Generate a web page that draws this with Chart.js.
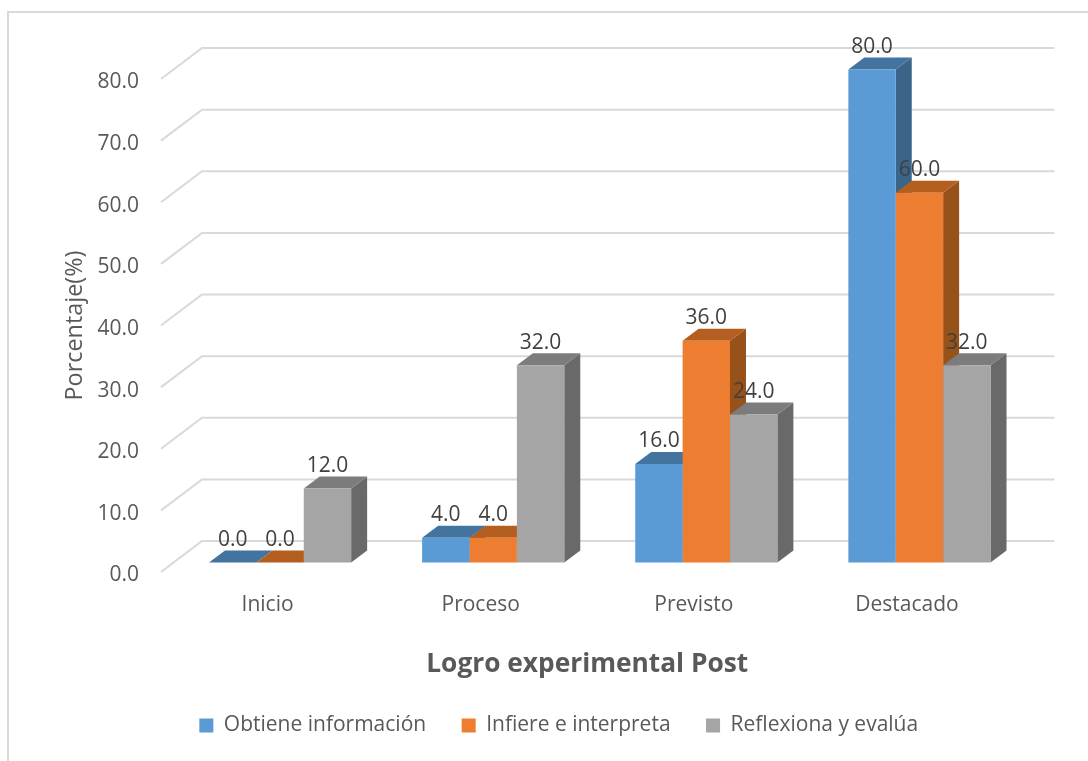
<!DOCTYPE html>
<html>
<head>
<meta charset="utf-8">
<script src="https://cdn.jsdelivr.net/npm/chart.js@4"></script>
<style>
  html, body { margin: 0; padding: 0; background: #fff; }
  #wrap { width: 1088px; height: 761px; }
</style>
</head>
<body>
<div id="wrap"><canvas id="myChart" width="1088" height="761"></canvas></div>
<script>
const categories = ["Inicio", "Proceso", "Previsto", "Destacado"];
const obtiene = [0, 4, 16, 80];
const infiere = [0, 4, 36, 60];
const reflexiona = [12, 32, 24, 32];
const seriesNames = ["Obtiene información", "Infiere e interpreta", "Reflexiona y evalúa"];

const fronts = ["#5B9BD5", "#ED7D31", "#A5A5A5"];
const tops = ["#43739F", "#B45F20", "#7C7C7C"];
const sides = ["#3A6488", "#975219", "#696969"];

// bars stand partway into the floor, the wall is at the back of it
const barShift = { x: 12.5, y: -9.5 };
const barDepth = { x: 16, y: -12 };
const wallDepth = { x: 41, y: -31 };

const scene3d = {
    id: "scene3d",
    afterLayout(chart) {
        // legend sits off centre in the reference
        chart.legend.left += 22;
        chart.legend.right += 22;
        // y tick text rides a little low against its gridline
        chart.scales.y.getLabelItems(chart.chartArea).forEach((item) => {
            item.options.translation[1] += 3.5;
        });
    },
    beforeDraw(chart) {
        const ctx = chart.ctx;
        ctx.save();
        ctx.fillStyle = "#fff";
        ctx.fillRect(0, 0, chart.width, chart.height);
        // outer frame, only left and top show
        ctx.strokeStyle = "#d9d9d9";
        ctx.lineWidth = 2;
        ctx.beginPath();
        ctx.moveTo(8, 761);
        ctx.lineTo(8, 12);
        ctx.lineTo(1088, 12);
        ctx.stroke();
        // gridlines: diagonal on the side wall, then along the back wall
        const y = chart.scales.y;
        const area = chart.chartArea;
        y.ticks.forEach((t) => {
            const py = y.getPixelForValue(t.value);
            ctx.beginPath();
            ctx.moveTo(area.left, py);
            ctx.lineTo(area.left + wallDepth.x, py + wallDepth.y);
            ctx.lineTo(area.right + wallDepth.x, py + wallDepth.y);
            ctx.stroke();
        });
        ctx.restore();
    },
    beforeDatasetsDraw(chart) {
        // sides and tops first, left series to right, so the later tops cover earlier sides
        const ctx = chart.ctx;
        ctx.save();
        ctx.translate(barShift.x, barShift.y);
        chart.data.datasets.forEach((ds, i) => {
            chart.getDatasetMeta(i).data.forEach((bar) => {
                const l = bar.x - bar.width / 2;
                const r = bar.x + bar.width / 2;
                ctx.fillStyle = sides[i];
                ctx.beginPath();
                ctx.moveTo(r, bar.y);
                ctx.lineTo(r + barDepth.x, bar.y + barDepth.y);
                ctx.lineTo(r + barDepth.x, bar.base + barDepth.y);
                ctx.lineTo(r, bar.base);
                ctx.closePath();
                ctx.fill();
                ctx.fillStyle = tops[i];
                ctx.beginPath();
                ctx.moveTo(l, bar.y);
                ctx.lineTo(l + barDepth.x, bar.y + barDepth.y);
                ctx.lineTo(r + barDepth.x, bar.y + barDepth.y);
                ctx.lineTo(r, bar.y);
                ctx.closePath();
                ctx.fill();
            });
        });
        ctx.restore();
    },
    beforeDatasetDraw(chart) {
        chart.ctx.save();
        chart.ctx.translate(barShift.x, barShift.y);
    },
    afterDatasetDraw(chart) {
        chart.ctx.restore();
    },
    afterDatasetsDraw(chart) {
        const ctx = chart.ctx;
        ctx.save();
        ctx.font = '21px "Open Sans"';
        ctx.fillStyle = "#404040";
        ctx.textAlign = "center";
        ctx.textBaseline = "middle";
        chart.data.datasets.forEach((ds, i) => {
            chart.getDatasetMeta(i).data.forEach((bar, j) => {
                ctx.fillText(ds.data[j].toFixed(1), bar.x + barShift.x, bar.y + barShift.y - 22.5);
            });
        });
        ctx.restore();
    },
};

const makeDataset = (label, data, i) => ({
    label: label,
    data: data,
    backgroundColor: fronts[i],
    clip: false,
    categoryPercentage: 0.667,
    barPercentage: 1,
});

new Chart(document.getElementById("myChart").getContext("2d"), {
    type: "bar",
    data: {
        labels: categories,
        datasets: [
            makeDataset(seriesNames[0], obtiene, 0),
            makeDataset(seriesNames[1], infiere, 1),
            makeDataset(seriesNames[2], reflexiona, 2),
        ],
    },
    plugins: [scene3d],
    options: {
        responsive: false,
        animation: false,
        layout: {
            padding: { left: 60, right: 74.5, top: 79, bottom: 15 },
        },
        scales: {
            x: {
                grid: { display: false },
                border: { display: false },
                ticks: {
                    color: "#595959",
                    font: { size: 21, family: "Open Sans" },
                    padding: 12.5,
                },
                title: {
                    display: true,
                    text: "Logro experimental Post",
                    color: "#595959",
                    font: { size: 26.3, weight: "bold", family: "Open Sans" },
                    padding: { top: 22, bottom: -1 },
                },
                afterFit(scale) {
                    scale.height = 107.5;
                },
            },
            y: {
                min: 0,
                max: 80,
                grid: { display: false },
                border: { display: false },
                ticks: {
                    stepSize: 10,
                    color: "#595959",
                    font: { size: 21, family: "Open Sans" },
                    padding: 14,
                    callback: (v) => v.toFixed(1),
                },
                title: {
                    display: true,
                    text: "Porcentaje(%)",
                    color: "#595959",
                    font: { size: 23.4, family: "Open Sans" },
                    padding: { top: 1, bottom: 8 },
                },
                afterFit(scale) {
                    scale.width = 101;
                },
            },
        },
        plugins: {
            legend: {
                position: "bottom",
                labels: {
                    boxWidth: 14,
                    boxHeight: 14,
                    padding: 35.5,
                    color: "#595959",
                    font: { size: 21, family: "Open Sans" },
                },
            },
            tooltip: { enabled: false },
        },
    },
});
</script>
</body>
</html>
